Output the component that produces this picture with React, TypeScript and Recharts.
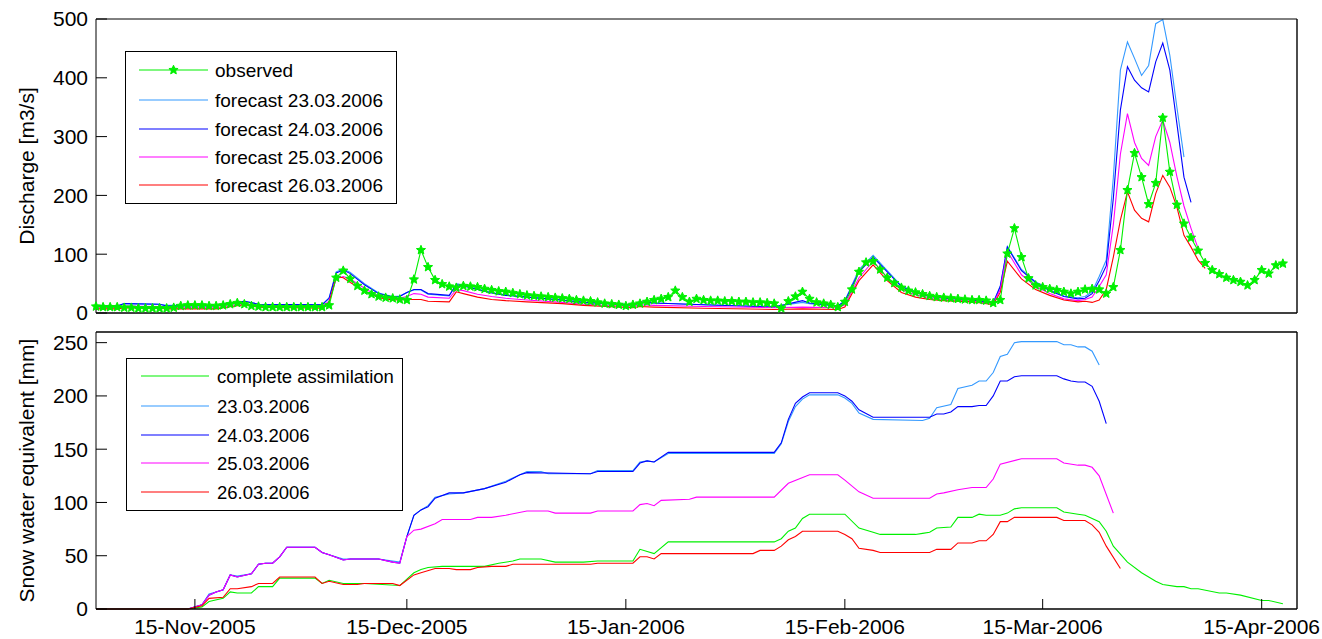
import { LineChart, Line, XAxis, YAxis, Legend } from 'recharts';

type Pt = [number, number];

const FONT = '"Liberation Sans", Arial, Helvetica, sans-serif';

// x axis = days since 1 Nov 2005
const dateTicks = [14, 44, 75, 106, 134, 165];
const dateLabels = ['15-Nov-2005', '15-Dec-2005', '15-Jan-2006', '15-Feb-2006', '15-Mar-2006', '15-Apr-2006'];
const dischargeTicks = [0, 100, 200, 300, 400, 500];
const sweTicks = [0, 50, 100, 150, 200, 250];

// observed discharge, one value per day from 1 Nov 2005
const observed = [
  11, 10, 10, 10, 9, 9, 8, 8, 8, 8,
  8, 9, 12, 13, 13, 13, 12, 12, 13, 15,
  17, 15, 12, 11, 10, 10, 10, 10, 10, 10,
  10, 10, 10, 13, 60, 72, 58, 46, 38, 32,
  28, 26, 25, 23, 22, 57, 107, 78, 56, 49,
  45, 43, 46, 45, 44, 41, 39, 37, 36, 34,
  32, 30, 29, 28, 27, 26, 25, 24, 22, 21,
  20, 18, 16, 15, 14, 12, 14, 16, 19, 22,
  24, 27, 38, 27, 19, 24, 22, 21, 21, 20,
  20, 19, 19, 18, 18, 17, 16, 8, 20, 28,
  36, 24, 18, 16, 14, 10, 19, 40, 70, 86,
  88, 74, 60, 51, 43, 38, 35, 32, 29, 27,
  26, 25, 24, 23, 22, 22, 21, 17, 22, 101,
  144, 95, 59, 47, 44, 41, 39, 36, 33, 36,
  40, 41, 40, 33, 44, 107, 209, 272, 231, 185,
  221, 332, 240, 184, 152, 128, 106, 85, 73, 66,
  60, 56, 53, 47, 56, 73, 67, 81, 84,
];

const fc23: Pt[] = [
  [0, 12], [3, 12], [4, 16], [9, 15], [10, 13], [17, 13], [18, 15], [21, 20], [23, 15], [32, 14],
  [33, 26], [34, 70], [35, 75], [36, 69], [38, 50], [40, 34], [42, 28], [43, 29], [44, 35], [45, 39],
  [46, 39], [47, 32], [50, 29], [51, 50], [52, 47], [54, 41], [56, 35], [58, 31], [61, 27], [66, 22],
  [69, 18], [76, 14], [77, 18], [79, 17], [86, 14], [96, 11], [100, 18], [101, 16], [105, 12], [106, 21],
  [108, 74], [110, 98], [112, 72], [114, 46], [116, 36], [118, 29], [120, 26], [124, 22], [127, 18], [128, 46],
  [129, 113], [131, 74], [133, 53], [135, 39], [137, 29], [139, 26], [140, 28], [141, 36], [142, 62], [143, 90],
  [144, 230], [145, 413], [146, 461], [147, 433], [148, 404], [149, 421], [150, 492], [151, 499], [152, 438], [153, 350],
  [154, 265],
];

const fc24: Pt[] = [
  [0, 12], [3, 12], [4, 16], [9, 15], [10, 12], [17, 12], [18, 15], [21, 20], [23, 15], [32, 14],
  [33, 25], [34, 68], [35, 73], [36, 67], [38, 48], [40, 33], [42, 27], [43, 28], [44, 35], [45, 40],
  [46, 40], [47, 33], [50, 30], [51, 48], [52, 46], [54, 40], [56, 34], [58, 30], [61, 27], [66, 22],
  [69, 18], [76, 14], [77, 19], [79, 17], [86, 14], [96, 10], [100, 21], [101, 17], [105, 12], [106, 20],
  [108, 70], [110, 95], [112, 70], [114, 45], [116, 35], [118, 28], [120, 25], [124, 22], [127, 17], [128, 45],
  [129, 112], [131, 72], [133, 52], [135, 38], [137, 28], [139, 24], [140, 25], [141, 33], [142, 55], [143, 80],
  [144, 195], [145, 345], [146, 419], [147, 396], [148, 383], [149, 376], [150, 427], [151, 459], [152, 413], [153, 322],
  [154, 231], [155, 188],
];

const fc25: Pt[] = [
  [0, 9], [3, 9], [4, 12], [9, 11], [10, 9], [17, 9], [18, 11], [21, 16], [23, 12], [32, 11],
  [33, 20], [34, 58], [35, 62], [36, 58], [38, 42], [40, 28], [42, 23], [44, 28], [45, 33], [46, 32],
  [47, 27], [50, 25], [51, 40], [52, 38], [54, 32], [56, 28], [58, 25], [61, 22], [66, 18], [69, 15],
  [76, 11], [77, 14], [79, 13], [86, 11], [96, 9], [100, 10], [105, 9], [106, 14], [108, 60], [110, 88],
  [112, 60], [114, 40], [116, 31], [118, 26], [120, 23], [124, 20], [127, 16], [128, 40], [129, 105], [131, 65],
  [133, 45], [135, 33], [137, 24], [139, 21], [140, 23], [141, 27], [142, 45], [143, 65], [144, 150], [145, 270],
  [146, 339], [147, 290], [148, 263], [149, 251], [150, 300], [151, 328], [152, 290], [153, 232], [154, 182], [155, 144],
  [156, 110],
];

const fc26: Pt[] = [
  [0, 7], [3, 7], [4, 9], [9, 8], [10, 7], [17, 7], [18, 9], [21, 14], [23, 10], [32, 8],
  [33, 18], [34, 62], [35, 60], [36, 52], [38, 38], [40, 26], [42, 22], [44, 23], [46, 23], [47, 20],
  [50, 19], [51, 36], [52, 33], [54, 27], [56, 23], [58, 21], [61, 19], [66, 16], [69, 13], [76, 9],
  [77, 11], [79, 10], [86, 8], [96, 6], [100, 7], [105, 6], [106, 10], [108, 55], [110, 82], [112, 55],
  [114, 35], [116, 27], [118, 23], [120, 21], [124, 19], [127, 14], [128, 35], [129, 88], [131, 58], [133, 40],
  [135, 30], [137, 22], [139, 19], [140, 20], [141, 18], [142, 22], [143, 40], [144, 95], [145, 158], [146, 206],
  [147, 175], [148, 161], [149, 155], [150, 203], [151, 234], [152, 214], [153, 180], [154, 132], [155, 112], [156, 90],
  [157, 76],
];

// snow water equivalent [mm]
const sweComplete: Pt[] = [
  [0, 0], [13, 0], [15, 2], [16, 7], [18, 10], [19, 16], [20, 15], [22, 15], [23, 21], [25, 21],
  [26, 29], [31, 29], [32, 24], [33, 27], [35, 24], [38, 24], [43, 22], [45, 34], [46, 37], [47, 39],
  [49, 40], [55, 40], [57, 43], [59, 45], [60, 47], [63, 47], [65, 44], [69, 44], [71, 45], [76, 45],
  [77, 56], [79, 52], [81, 63], [96, 63], [97, 66], [98, 73], [99, 76], [100, 85], [101, 89], [106, 89],
  [108, 76], [110, 72], [111, 70], [116, 70], [117, 71], [118, 72], [119, 76], [121, 77], [122, 86], [124, 86],
  [125, 89], [126, 88], [128, 88], [129, 90], [130, 94], [131, 95], [136, 95], [137, 91], [139, 89], [140, 88],
  [142, 82], [143, 73], [144, 59], [146, 44], [148, 34], [150, 26], [151, 23], [153, 21], [154, 21], [155, 19],
  [156, 19], [159, 15], [160, 15], [162, 13], [165, 8], [166, 8], [168, 5],
];

const swe23: Pt[] = [
  [0, 0], [13, 0], [15, 4], [16, 14], [17, 16], [18, 18], [19, 32], [20, 31], [22, 33], [23, 42],
  [24, 43], [25, 43], [26, 49], [27, 58], [31, 58], [32, 53], [33, 51], [35, 47], [36, 47], [40, 47],
  [42, 45], [43, 44], [44, 68], [45, 88], [46, 93], [47, 97], [48, 105], [50, 108], [52, 109], [55, 113],
  [58, 120], [60, 126], [61, 129], [63, 129], [64, 127], [70, 127], [71, 130], [76, 130], [77, 138], [78, 139],
  [79, 138], [81, 146], [96, 146], [97, 155], [98, 176], [99, 190], [100, 197], [101, 201], [105, 201], [106, 198],
  [107, 193], [108, 184], [110, 178], [117, 177], [118, 179], [119, 189], [121, 192], [122, 207], [124, 210], [125, 214],
  [126, 214], [127, 222], [128, 237], [129, 239], [130, 250], [131, 251], [136, 251], [137, 248], [138, 248], [139, 246],
  [140, 246], [141, 242], [142, 229],
];

const swe24: Pt[] = [
  [0, 0], [13, 0], [15, 4], [16, 13], [17, 16], [18, 18], [19, 32], [20, 30], [22, 33], [23, 42],
  [24, 43], [25, 43], [26, 49], [27, 58], [31, 58], [32, 53], [33, 51], [35, 46], [36, 47], [40, 47],
  [42, 44], [43, 43], [44, 68], [45, 88], [46, 93], [47, 96], [48, 104], [50, 109], [52, 109], [55, 113],
  [58, 119], [60, 126], [61, 128], [70, 127], [71, 129], [76, 129], [77, 137], [78, 139], [79, 138], [81, 147],
  [96, 147], [97, 156], [98, 178], [99, 193], [100, 199], [101, 203], [105, 203], [106, 200], [107, 195], [108, 187],
  [110, 180], [118, 180], [119, 183], [120, 183], [121, 185], [122, 190], [124, 190], [125, 191], [126, 191], [127, 200],
  [128, 214], [129, 214], [130, 218], [131, 219], [136, 219], [137, 216], [138, 214], [139, 213], [140, 213], [141, 209],
  [142, 195], [143, 174],
];

const swe25: Pt[] = [
  [0, 0], [13, 0], [15, 4], [16, 13], [17, 16], [18, 18], [19, 32], [20, 30], [22, 33], [23, 42],
  [24, 43], [25, 43], [26, 49], [27, 58], [31, 58], [32, 53], [33, 51], [35, 46], [36, 47], [40, 47],
  [42, 44], [43, 43], [44, 68], [45, 74], [46, 75], [48, 80], [49, 84], [53, 84], [54, 86], [56, 86],
  [58, 88], [61, 92], [64, 92], [65, 90], [70, 90], [71, 92], [76, 92], [77, 98], [78, 99], [79, 97],
  [80, 102], [84, 103], [85, 105], [96, 105], [98, 118], [101, 126], [105, 126], [106, 121], [108, 110], [110, 104],
  [118, 104], [119, 108], [120, 109], [122, 112], [124, 114], [126, 114], [127, 122], [128, 136], [131, 141], [136, 141],
  [137, 137], [139, 135], [140, 135], [141, 133], [142, 125], [144, 90],
];

const swe26: Pt[] = [
  [0, 0], [13, 0], [15, 3], [16, 10], [18, 11], [19, 19], [20, 19], [22, 21], [23, 24], [25, 24],
  [26, 30], [31, 30], [32, 24], [33, 26], [35, 23], [37, 23], [38, 24], [42, 24], [43, 22], [45, 32],
  [46, 34], [48, 38], [50, 38], [51, 37], [53, 37], [54, 39], [56, 40], [58, 40], [59, 42], [70, 42],
  [71, 43], [76, 43], [77, 49], [78, 49], [79, 47], [80, 52], [93, 52], [94, 55], [96, 55], [97, 59],
  [98, 65], [99, 68], [100, 73], [105, 73], [106, 70], [107, 66], [108, 57], [110, 55], [111, 53], [118, 53],
  [119, 56], [121, 56], [122, 62], [124, 62], [125, 64], [126, 64], [127, 70], [128, 82], [129, 82], [130, 86],
  [136, 86], [137, 83], [140, 83], [141, 79], [142, 72], [143, 59], [145, 38],
];

const GREEN = '#00f000';
const LIGHTBLUE = '#3399ff';
const BLUE = '#0000ff';
const MAGENTA = '#ff00ff';
const RED = '#ff0000';

const toRows = (pts: Pt[]) => pts.map(([d, v]) => ({ d, v }));
const observedRows = observed.map((v, d) => ({ d, v }));

const Star = ({ cx, cy, r = 4.8 }: { cx: number; cy: number; r?: number }) => {
  const pts: string[] = [];
  for (let k = 0; k < 10; k++) {
    const a = (-90 + k * 36) * (Math.PI / 180);
    const rr = k % 2 === 0 ? r : r * 0.45;
    pts.push(`${cx + rr * Math.cos(a)},${cy + rr * Math.sin(a)}`);
  }
  return <polygon points={pts.join(' ')} fill={GREEN} stroke={GREEN} strokeWidth={1} />;
};

const renderStar = (p: any) => <Star key={`s${p.index}`} cx={p.cx} cy={p.cy} />;

type LegendItem = { label: string; color: string; star?: boolean };

const LegendBox = ({ items, width, height, rows, lineX, textX, fontSize }: {
  items: LegendItem[]; width: number; height: number; rows: number[]; lineX: [number, number]; textX: number; fontSize: number;
}) => (
  <svg width={width} height={height} style={{ display: 'block' }}>
    <rect x={0.5} y={0.5} width={width - 1} height={height - 1} fill="#fff" stroke="#000" />
    {items.map((it, i) => (
      <g key={it.label}>
        <line x1={lineX[0]} x2={lineX[1]} y1={rows[i]} y2={rows[i]} stroke={it.color} strokeWidth={1.2} />
        {it.star && <Star cx={(lineX[0] + lineX[1]) / 2} cy={rows[i]} />}
        <text x={textX} y={rows[i]} dominantBaseline="central" fontSize={fontSize} fontFamily={FONT} fill="#000">
          {it.label}
        </text>
      </g>
    ))}
  </svg>
);

const topLegend: LegendItem[] = [
  { label: 'observed', color: GREEN, star: true },
  { label: 'forecast 23.03.2006', color: LIGHTBLUE },
  { label: 'forecast 24.03.2006', color: BLUE },
  { label: 'forecast 25.03.2006', color: MAGENTA },
  { label: 'forecast 26.03.2006', color: RED },
];

const bottomLegend: LegendItem[] = [
  { label: 'complete assimilation', color: GREEN },
  { label: '23.03.2006', color: LIGHTBLUE },
  { label: '24.03.2006', color: BLUE },
  { label: '25.03.2006', color: MAGENTA },
  { label: '26.03.2006', color: RED },
];

const tickStyle = { fill: '#000', fontSize: 21, fontFamily: FONT };
const noLabel = () => '';

const axisTitle = (text: string, cy: number) => () => (
  <text
    x={26}
    y={cy}
    transform={`rotate(-90, 26, ${cy})`}
    textAnchor="middle"
    dominantBaseline="central"
    fontSize={21}
    fontFamily={FONT}
    fill="#000"
  >
    {text}
  </text>
);

const App = () => {
  return (
    <div style={{ position: 'absolute', left: 0, top: 0, width: 1322, height: 639, background: '#fff', fontFamily: FONT }}>
      <div style={{ position: 'absolute', left: 0, top: 0 }}>
        <LineChart width={1322} height={330} margin={{ top: 18, right: 24, bottom: 16, left: 95 }}>
          <XAxis dataKey="d" type="number" domain={[0, 170]} ticks={dateTicks} tickFormatter={noLabel}
            tickLine={false} axisLine={{ stroke: '#000', strokeWidth: 1.6 }} height={1} />
          <XAxis xAxisId="top" orientation="top" dataKey="d" type="number" domain={[0, 170]} ticks={dateTicks}
            tickFormatter={noLabel} tickLine={false} axisLine={{ stroke: '#000' }} height={1} />
          <YAxis type="number" domain={[0, 500]} ticks={dischargeTicks} width={1} tick={tickStyle}
            tickSize={-11} tickMargin={19} tickLine={{ stroke: '#000' }} axisLine={{ stroke: '#000' }}
            label={{ content: axisTitle('Discharge [m3/s]', 166) }} />
          <YAxis yAxisId="r" orientation="right" type="number" domain={[0, 500]} ticks={dischargeTicks} width={1}
            tickFormatter={noLabel} tickSize={-11} tickLine={{ stroke: '#000' }} axisLine={{ stroke: '#000', strokeWidth: 1.4 }} />
          <Legend layout="vertical" align="center" verticalAlign="middle"
            wrapperStyle={{ left: 125, top: 51, width: 272, height: 153 }}
            content={() => (
              <LegendBox items={topLegend} width={272} height={153} rows={[19, 49, 78, 106, 134]} lineX={[14, 83]} textX={90} fontSize={19} />
            )} />
          <Line data={toRows(fc23)} dataKey="v" name="forecast 23.03.2006" stroke={LIGHTBLUE} strokeWidth={1.1} dot={false} isAnimationActive={false} />
          <Line data={toRows(fc24)} dataKey="v" name="forecast 24.03.2006" stroke={BLUE} strokeWidth={1.1} dot={false} isAnimationActive={false} />
          <Line data={toRows(fc25)} dataKey="v" name="forecast 25.03.2006" stroke={MAGENTA} strokeWidth={1.1} dot={false} isAnimationActive={false} />
          <Line data={toRows(fc26)} dataKey="v" name="forecast 26.03.2006" stroke={RED} strokeWidth={1.1} dot={false} isAnimationActive={false} />
          <Line data={observedRows} dataKey="v" name="observed" stroke={GREEN} strokeWidth={1.1} dot={renderStar} isAnimationActive={false} />
        </LineChart>
      </div>
      <div style={{ position: 'absolute', left: 0, top: 320 }}>
        <LineChart width={1322} height={319} margin={{ top: 11, right: 24, bottom: 0, left: 95 }}>
          <XAxis dataKey="d" type="number" domain={[0, 170]} ticks={dateTicks}
            tickFormatter={(d: number) => dateLabels[dateTicks.indexOf(d)]} tick={tickStyle}
            tickSize={-10} tickMargin={20} tickLine={{ stroke: '#000' }} axisLine={{ stroke: '#000', strokeWidth: 1.4 }} height={30} />
          <XAxis xAxisId="top" orientation="top" dataKey="d" type="number" domain={[0, 170]} ticks={dateTicks}
            tickFormatter={noLabel} tickSize={-10} tickLine={{ stroke: '#000' }} axisLine={{ stroke: '#000', strokeWidth: 1.4 }} height={1} />
          <YAxis type="number" domain={[0, 260]} ticks={sweTicks} width={1} tick={tickStyle}
            tickSize={-11} tickMargin={19} tickLine={{ stroke: '#000' }} axisLine={{ stroke: '#000' }}
            label={{ content: axisTitle('Snow water equivalent [mm]', 150.5) }} />
          <YAxis yAxisId="r" orientation="right" type="number" domain={[0, 260]} ticks={sweTicks} width={1}
            tickFormatter={noLabel} tickSize={-11} tickLine={{ stroke: '#000' }} axisLine={{ stroke: '#000', strokeWidth: 1.4 }} />
          <Legend layout="vertical" align="center" verticalAlign="middle"
            wrapperStyle={{ left: 126, top: 38, width: 277, height: 153 }}
            content={() => (
              <LegendBox items={bottomLegend} width={277} height={153} rows={[18, 48, 77, 105, 134]} lineX={[15, 83]} textX={91} fontSize={18.5} />
            )} />
          <Line data={toRows(swe23)} dataKey="v" name="23.03.2006" stroke={LIGHTBLUE} strokeWidth={1.1} dot={false} isAnimationActive={false} />
          <Line data={toRows(swe24)} dataKey="v" name="24.03.2006" stroke={BLUE} strokeWidth={1.1} dot={false} isAnimationActive={false} />
          <Line data={toRows(swe25)} dataKey="v" name="25.03.2006" stroke={MAGENTA} strokeWidth={1.1} dot={false} isAnimationActive={false} />
          <Line data={toRows(sweComplete)} dataKey="v" name="complete assimilation" stroke={GREEN} strokeWidth={1.1} dot={false} isAnimationActive={false} />
          <Line data={toRows(swe26)} dataKey="v" name="26.03.2006" stroke={RED} strokeWidth={1.1} dot={false} isAnimationActive={false} />
        </LineChart>
      </div>
    </div>
  );
};

export default App;
